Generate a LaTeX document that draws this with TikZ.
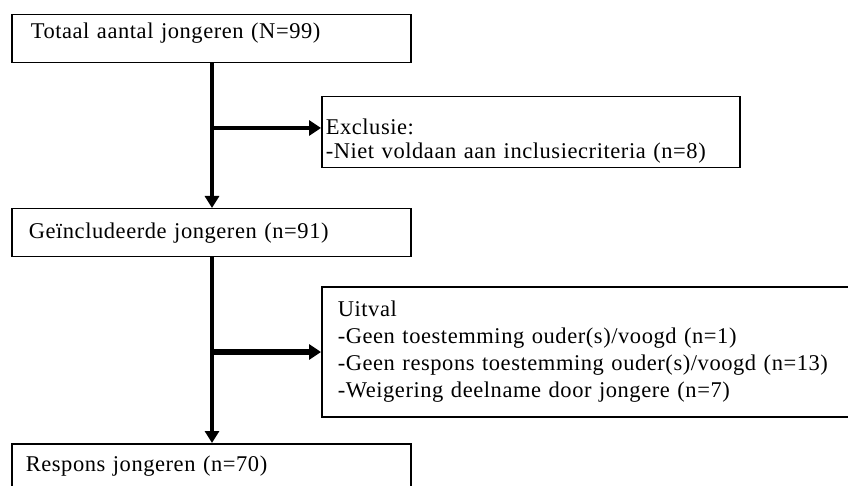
\documentclass[tikz,border=0pt]{standalone}
\usepackage{fontspec}
\setmainfont[LetterSpace=2.5]{Liberation Serif}
\usetikzlibrary{arrows.meta}
\tikzset{
  box/.style={draw=black, line width=1.5pt, anchor=north west, align=left,
    inner ysep=0pt, font=\fontsize{22.5}{27}\selectfont},
  vline/.style={line width=4.5pt, -{Triangle[length=12pt,width=14pt]}},
  hline/.style={line width=4.5pt, -{Triangle[length=12pt,width=15pt]}}
}
\begin{document}
\begin{tikzpicture}[x=1pt,y=-1pt]
\useasboundingbox (0,0) rectangle (848,486);
\fill[white] (0,0) rectangle (848,486);
\clip (0,0) rectangle (848,486);

\node[box, minimum width=399pt, minimum height=48pt, inner xsep=19pt, text width=361pt] (tot) at (11,14) {\raisebox{5.5pt}[\height][\depth]{Totaal aantal jongeren (N=99)}};

\node[box, minimum width=418pt, minimum height=71pt, inner xsep=4pt, text width=410pt,
  font=\fontsize{22.5}{24}\selectfont] (excl) at (321,96)
  {\rule{0pt}{34pt}Exclusie:\\-Niet voldaan aan inclusiecriteria (n=8)};

\node[box, minimum width=399pt, minimum height=48pt, inner xsep=17pt, text width=365pt] (incl) at (11,208) {Geïncludeerde jongeren (n=91)};

\node[box, minimum width=540pt, minimum height=130pt, inner xsep=16pt, text width=508pt] (uit) at (321,286)
  {Uitval\\-Geen toestemming ouder(s)/voogd (n=1)\\-Geen respons toestemming ouder(s)/voogd (n=13)\\-Weigering deelname door jongere (n=7)};

\node[box, minimum width=399pt, minimum height=44pt, inner xsep=14pt, text width=371pt] (resp) at (11,443) {Respons jongeren (n=70)};

\coordinate (j1) at (212,128);
\coordinate (j2) at (212,352);

\draw[vline] (tot.south -| j1) -- (incl.north -| j1);
\draw[hline] (j1) -- (j1 -| excl.west);
\draw[vline] (incl.south -| j2) -- (resp.north -| j2);
\draw[hline, line width=6pt] (j2) -- (j2 -| uit.west);
\end{tikzpicture}
\end{document}
